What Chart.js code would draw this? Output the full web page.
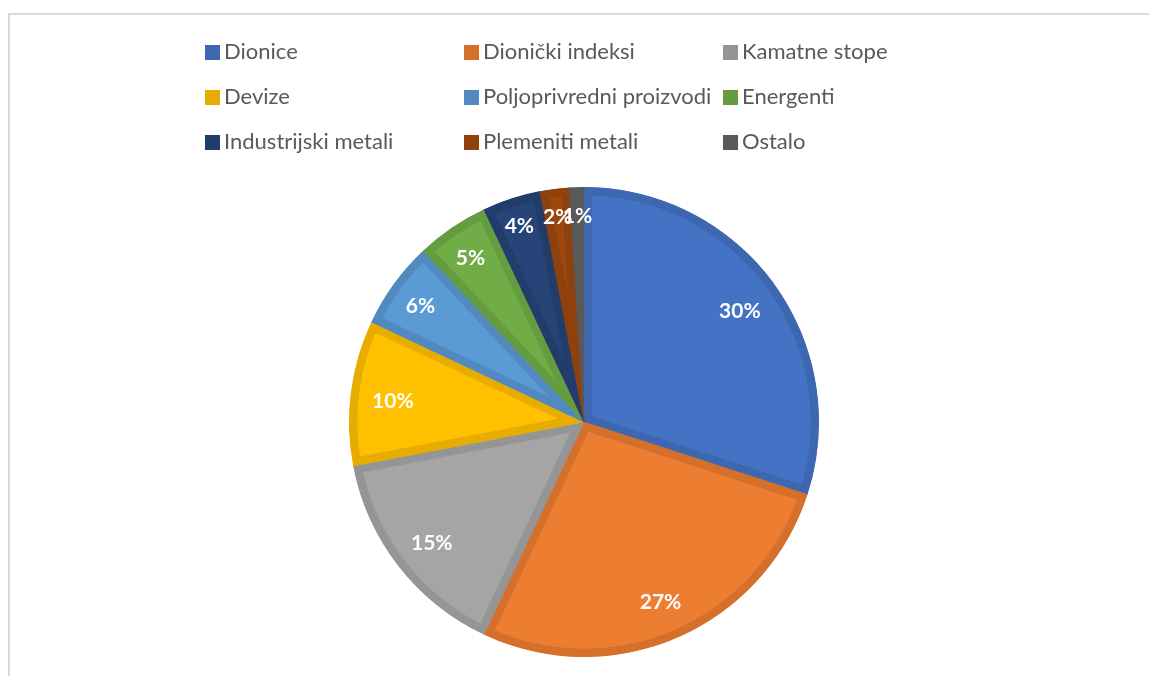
<!DOCTYPE html>
<html>
<head>
<meta charset="utf-8">
<script src="https://cdn.jsdelivr.net/npm/chart.js@4/dist/chart.umd.min.js"></script>
<style>
  body { margin: 0; background: #fff; }
  #wrap { position: relative; width: 1149px; height: 676px; overflow: hidden; }
  #frame { position: absolute; left: 8px; top: 13px; width: 1200px; height: 800px;
           border-left: 2px solid #d9d9d9; border-top: 2px solid #d9d9d9; }
  #myChart { position: absolute; left: 0; top: 0; }
  #legend { position: absolute; left: 205px; top: 36px; font-family: Lato, sans-serif;
            font-size: 22px; color: #595959; }
  .item { position: absolute; white-space: nowrap; height: 30px; line-height: 30px; }
  .box { display: inline-block; width: 15px; height: 15px; margin-right: 4px; vertical-align: -1px; }
</style>
</head>
<body>
<div id="wrap">
  <div id="frame"></div>
  <canvas id="myChart" width="1149" height="676"></canvas>
  <div id="legend"></div>
</div>
<script>
const labels = ['Dionice', 'Dionički indeksi', 'Kamatne stope', 'Devize', 'Poljoprivredni proizvodi',
  'Energenti', 'Industrijski metali', 'Plemeniti metali', 'Ostalo'];
const values = [30, 27, 15, 10, 6, 5, 4, 2, 1];

const fills = ['#4472C4', '#ED7D31', '#A5A5A5', '#FFC000', '#5B9BD5', '#70AD47', '#264478', '#9E480E', '#636363'];
const borders = ['#3E67B1', '#D5702C', '#959595', '#E6AD00', '#5189C0', '#659C40', '#223D6C', '#8E410D', '#595959'];

// legend grid positions (column x, row y) relative to #legend
const colX = [0, 259, 518];
const rowY = [0, 45, 90];

// percent labels drawn on each slice
const pieLabels = {
  id: 'pieLabels',
  afterDatasetsDraw(chart) {
    const ctx = chart.ctx;
    const meta = chart.getDatasetMeta(0);
    const total = values.reduce((a, b) => a + b, 0);
    ctx.save();
    ctx.fillStyle = '#fff';
    ctx.font = 'bold 21px Lato';
    ctx.textAlign = 'center';
    ctx.textBaseline = 'middle';
    meta.data.forEach(function(arc, i) {
      const p = arc.getProps(['x', 'y', 'startAngle', 'endAngle', 'outerRadius'], true);
      const mid = (p.startAngle + p.endAngle) / 2;
      const f = values[i] < 5 ? 0.89 : (values[i] < 10 ? 0.86 : 0.82);
      const r = p.outerRadius * f;
      const txt = Math.round(values[i] / total * 100) + '%';
      ctx.fillText(txt, p.x + Math.cos(mid) * r, p.y + Math.sin(mid) * r + 3);
    });
    ctx.restore();
  }
};

const config = {
  type: 'pie',
  data: {
    labels: labels,
    datasets: [{
      data: values,
      backgroundColor: fills,
      borderColor: borders,
      borderWidth: 8,
      borderAlign: 'inner',
      hoverOffset: 0
    }]
  },
  options: {
    responsive: false,
    animation: false,
    layout: { padding: { top: 187, bottom: 19, left: 19, right: 0 } },
    plugins: {
      legend: { display: false },
      tooltip: { enabled: false }
    }
  },
  plugins: [pieLabels]
};

var myChart = new Chart(document.getElementById('myChart'), config);

// legend in a 3 column grid
var leg = document.getElementById('legend');
labels.forEach(function(l, i) {
  var d = document.createElement('div');
  d.className = 'item';
  d.style.left = colX[i % 3] + 'px';
  d.style.top = rowY[Math.floor(i / 3)] + 'px';
  d.innerHTML = '<span class="box" style="background:' + borders[i] + '"></span>' + l;
  leg.appendChild(d);
});
</script>
</body>
</html>
